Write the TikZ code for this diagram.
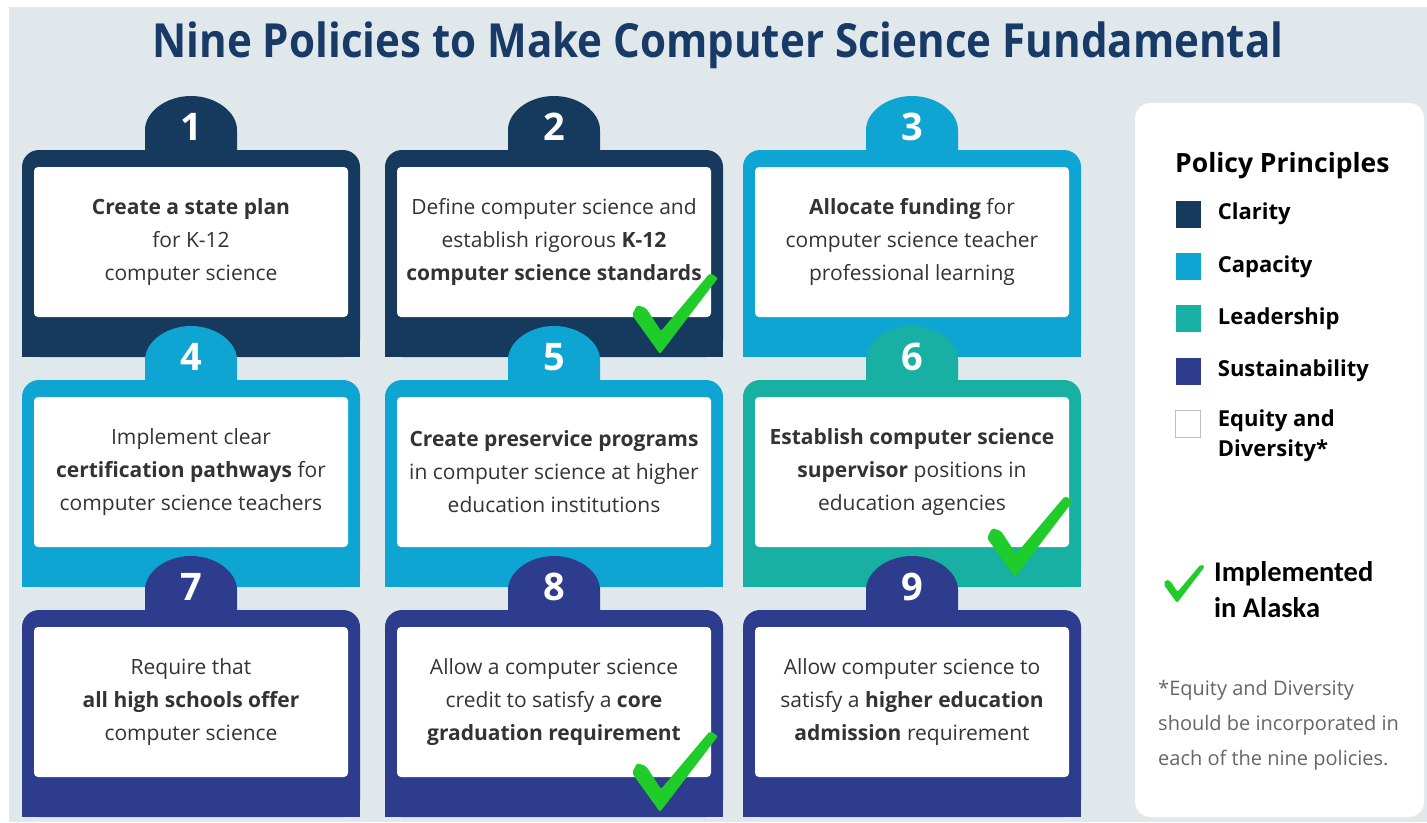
\documentclass[tikz,border=0pt]{standalone}
\usepackage{fontspec}
\setmainfont{Open Sans}
\newfontfamily\calibrifont{Carlito}
\usepackage{graphicx}
\usepackage{xcolor}
\definecolor{backdrop}{HTML}{E1E8EC}
\definecolor{titleblue}{HTML}{173A66}
\definecolor{clarity}{HTML}{163A5E}
\definecolor{capacity}{HTML}{0EA5D3}
\definecolor{leadership}{HTML}{17B0A3}
\definecolor{sustain}{HTML}{2D3C8C}
\definecolor{bodytext}{HTML}{333333}
\definecolor{notegray}{HTML}{666666}
\definecolor{chkgreen}{HTML}{1FCC2A}
\usepackage{tikz}
\usetikzlibrary{positioning}

\begin{document}
\begin{tikzpicture}[x = 1pt, y = -1pt, node distance = 25pt,
		policy/.style={align = center, text = bodytext, font = \fontsize{21}{33}\selectfont},
		num/.style={text = white, font = \fontsize{38}{40}\selectfont\bfseries},
		key/.style={rectangle, minimum width = 25pt, minimum height = 27pt, inner sep = 0pt},
		keytext/.style={inner sep = 0pt, align = left, font = \fontsize{22}{30}\selectfont\bfseries},
		pics/frame/.style={code={
			\fill[pic actions, rounded corners = 17pt] (0,0) rectangle (338,207);
			\fill[pic actions] (0,100) rectangle (338,207);
			\fill[pic actions] (123,2) -- (123,-20) .. controls (123,-38) and (144,-54) .. (169,-54)
				.. controls (194,-54) and (215,-38) .. (215,-20) -- (215,2) -- cycle;
			\fill[white, rounded corners = 4pt] (12,17) rectangle (326,167);
			\node (-num) [num] at (169,-23) {#1};
			\coordinate (-box) at (169,92);
		}},
		pics/tick/.style={code={
			\fill[chkgreen, rounded corners = 2pt] (0,2) -- (-28,-37) -- (-23,-47) -- (-14,-44)
				-- (1,-21) -- (50,-79) -- (58,-74) -- cycle;
		}}]
		\useasboundingbox (0,0) rectangle (1427,822);
		\fill[white] (0,0) rectangle (1427,822);
		\fill[backdrop] (9,7) rectangle (1427,822);
		\node (H) [anchor = base, text = titleblue] at (718,57)
			{\scalebox{0.895}[1]{\fontsize{47}{50}\selectfont\bfseries Nine Policies to Make Computer Science Fundamental}};

		\pic[fill = clarity] (T1) at (22,150) {frame=1};
		\pic[fill = clarity] (T2) at (385,150) {frame=2};
		\pic[fill = capacity] (T3) at (743,150) {frame=3};
		\pic[fill = capacity] (T4) at (22,380) {frame=4};
		\pic[fill = capacity] (T5) at (385,380) {frame=5};
		\pic[fill = leadership] (T6) at (743,380) {frame=6};
		\pic[fill = sustain] (T7) at (22,610) {frame=7};
		\pic[fill = sustain] (T8) at (385,610) {frame=8};
		\pic[fill = sustain] (T9) at (743,610) {frame=9};

		\node (P1) [policy] at (T1-box) {\textbf{Create a state plan}\\for K-12\\computer science};
		\node (P2) [policy] at (T2-box) {Define computer science and\\establish rigorous \textbf{K-12}\\\textbf{computer science standards}};
		\node (P3) [policy] at (T3-box) {\textbf{Allocate funding} for\\computer science teacher\\professional learning};
		\node (P4) [policy] at (T4-box) {Implement clear\\\textbf{certification pathways} for\\computer science teachers};
		\node (P5) [policy] at (T5-box) {\textbf{Create preservice programs}\\in computer science at higher\\education institutions};
		\node (P6) [policy] at (T6-box) {\textbf{Establish computer science}\\\textbf{supervisor} positions in\\education agencies};
		\node (P7) [policy] at (T7-box) {Require that\\\textbf{all high schools offer}\\computer science};
		\node (P8) [policy] at (T8-box) {Allow a computer science\\credit to satisfy a \textbf{core}\\\textbf{graduation requirement}};
		\node (P9) [policy] at (T9-box) {Allow computer science to\\satisfy a \textbf{higher education}\\\textbf{admission} requirement};

		\pic at (660,352) {tick};
		\pic at (1015,575) {tick};
		\pic at (660,810) {tick};

		\fill[white, draw = black!6, rounded corners = 15pt] (1135,103) rectangle (1424,817);
		\node (L0) [anchor = base west, inner sep = 0pt, font = \fontsize{26.5}{30}\selectfont\bfseries] at (1175,172) {Policy Principles};
		\node (K1) [key, fill = clarity] at (1188,214) {};
		\node (K2) [key, fill = capacity, below = of K1] {};
		\node (K3) [key, fill = leadership, below = of K2] {};
		\node (K4) [key, fill = sustain, below = of K3] {};
		\node (K5) [key, fill = white, draw = black!25, below = of K4] {};
		\node (C1) [keytext, right = 17pt of K1] {Clarity};
		\node (C2) [keytext, right = 17pt of K2] {Capacity};
		\node (C3) [keytext, right = 17pt of K3] {Leadership};
		\node (C4) [keytext, right = 17pt of K4] {Sustainability};
		\node (C5) [keytext, right = 17pt of K5.north east, anchor = north west] {Equity and\\Diversity*};

		\pic[scale = 0.48] at (1177,602) {tick};
		\node (A) [anchor = west, align = left, inner sep = 0pt, font = \calibrifont\fontsize{28.5}{36}\selectfont\bfseries] at (1214,590) {Implemented\\in Alaska};
		\node (N) [anchor = north west, align = left, inner sep = 0pt, text = notegray, font = \fontsize{20}{35}\selectfont] at (1158,680)
			{*Equity and Diversity\\should be incorporated in\\each of the nine policies.};
	\end{tikzpicture}
\end{document}
